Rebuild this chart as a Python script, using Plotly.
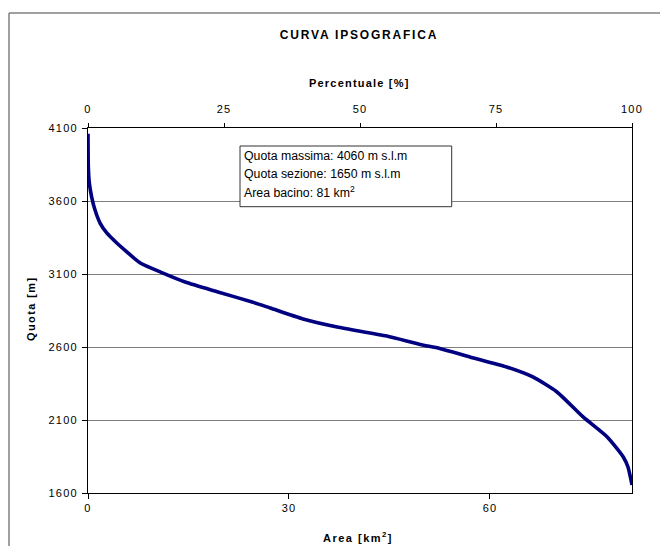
import plotly.graph_objects as go

# Hypsographic curve data
area_km2 = [0.0, 0.05, 0.2, 0.55, 1.05, 1.8, 2.8, 4.3, 5.8, 7.8, 11.2, 14.5, 19.4,
            24.5, 27.2, 32.1, 37.2, 44.6, 49.6, 52.5, 57.0, 62.5, 66.4, 70.0,
            73.9, 77.5, 79.9, 80.6, 81.2]
quota_m = [4060, 3833, 3723, 3627, 3538, 3449, 3381, 3312, 3251, 3175, 3106, 3045, 2977,
           2908, 2867, 2792, 2737, 2675, 2617, 2590, 2532, 2463, 2395, 2292,
           2121, 1984, 1847, 1778, 1655]

x_ticks = [0, 30, 60]
pct_ticks = [0, 25, 50, 75, 100]
y_ticks = [1600, 2100, 2600, 3100, 3600, 4100]

title_text = "CURVA IPSOGRAFICA"
top_title = "Percentuale [%]"
x_title = "Area [km<sup>2</sup>]"
y_title = "Quota [m]"
info_lines = ["Quota massima: 4060 m s.l.m", "Quota sezione: 1650 m s.l.m",
              "Area bacino: 81 km<sup>2</sup>"]

FONT = "Liberation Sans, Arial, sans-serif"


def spaced(txt, ls):
    return '<span style="letter-spacing:%spx">%s</span>' % (ls, txt)


def tick_text(vals):
    return [spaced(str(v), 1.2) for v in vals]


fig = go.Figure()
fig.add_trace(go.Scatter(x=area_km2, y=quota_m, mode="lines",
                         line=dict(color="#000080", width=3.6, shape="spline",
                                   smoothing=0.6),
                         showlegend=False, hoverinfo="skip"))
# invisible trace to activate the top percentage axis
fig.add_trace(go.Scatter(x=[0, 100], y=[1600, 1600], xaxis="x2", mode="lines",
                         line=dict(width=0), opacity=0, showlegend=False,
                         hoverinfo="skip"))

axis_font = dict(family=FONT, size=11, color="black")

# plot area on screen: x 88..632, y 128..493 (page has 8px body margin)
def px(xs):
    return (xs - 88) / 544.0


def py(ys):
    return (493 - ys) / 365.0


annotations = [
    dict(text="<b>" + spaced(top_title, 1.2) + "</b>", x=px(359.3), y=py(83),
         xanchor="center", yanchor="middle"),
    dict(text="<b>" + spaced(x_title, 1.5) + "</b>", x=px(358.3), y=py(536.5),
         xanchor="center", yanchor="middle"),
    dict(text="<b>" + spaced(y_title, 1.4) + "</b>", x=px(31), y=py(309),
         xanchor="center", yanchor="middle", textangle=-90),
]
for txt, yc in zip(info_lines, [156, 174.3, 191.7]):
    annotations.append(dict(text=txt, x=px(243), y=py(yc), xanchor="left",
                            yanchor="middle", font=dict(family=FONT, size=12.3,
                                                        color="black")))
for a in annotations:
    a.update(xref="paper", yref="paper", showarrow=False, borderpad=0)
    a.setdefault("font", dict(family=FONT, size=11, color="black"))

border = dict(color="#808080", width=1.5)

fig.update_layout(
    width=652, height=538,
    margin=dict(l=80, r=28, t=120, b=53, autoexpand=False),
    paper_bgcolor="white", plot_bgcolor="white",
    font=dict(family=FONT, size=11, color="black"),
    title=dict(text="<b>" + spaced(title_text, 1.8) + "</b>", x=351 / 652.0,
               xanchor="center", y=1 - 27 / 538.0, yanchor="middle",
               font=dict(family=FONT, size=12, color="black")),
    xaxis=dict(range=[0, 81.2], tickvals=x_ticks, ticktext=tick_text(x_ticks),
               showgrid=False, zeroline=False,
               showline=True, linecolor="black", linewidth=1,
               ticks="outside", ticklen=5, tickcolor="black",
               tickfont=axis_font),
    xaxis2=dict(range=[0, 100], tickvals=pct_ticks, ticktext=tick_text(pct_ticks),
                overlaying="x", side="top",
                showgrid=False, zeroline=False, showline=True, linecolor="black",
                linewidth=1, ticks="outside", ticklen=4, tickcolor="black",
                ticklabelstandoff=6, tickfont=axis_font),
    yaxis=dict(range=[1600, 4100], tickvals=y_ticks, ticktext=tick_text(y_ticks),
               showgrid=True, gridcolor="#808080", gridwidth=1, zeroline=False,
               showline=True, linecolor="black", linewidth=1, mirror=True,
               ticks="outside", ticklen=5, tickcolor="black",
               ticklabelstandoff=2, tickfont=axis_font),
    annotations=annotations,
    shapes=[
        dict(type="line", xref="paper", yref="paper",
             x0=px(9), x1=px(700), y0=py(13), y1=py(13), line=border, layer="below"),
        dict(type="line", xref="paper", yref="paper",
             x0=px(9), x1=px(9), y0=py(13), y1=py(600), line=border, layer="below"),
        dict(type="rect", xref="paper", yref="paper",
             x0=px(240), x1=px(451.7), y0=py(206.7), y1=py(146),
             line=dict(color="#333333", width=1), fillcolor="white",
             layer="above"),
    ],
)

fig.write_html("out.html")
